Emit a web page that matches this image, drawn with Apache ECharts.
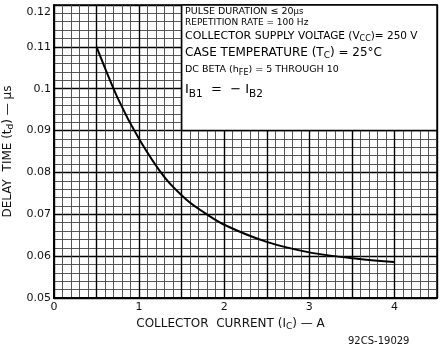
<!DOCTYPE html>
<html>
<head>
<meta charset="utf-8">
<script src="https://cdn.jsdelivr.net/npm/echarts@6/dist/echarts.min.js"></script>
<style>html,body{margin:0;padding:0;background:#fff}#c{width:440px;height:350px}</style>
</head>
<body>
<div id="c"></div>
<script>
// ---- data ----
const collectorCurrent = [0.5, 0.75, 1.0, 1.3, 1.55, 1.75, 2.0, 2.5, 3.0, 3.5, 4.0];
const delayTime = [0.1100, 0.0977, 0.0880, 0.0788, 0.0736, 0.0706, 0.0675, 0.0634, 0.0609, 0.0595, 0.0586];
const xTickLabels = ['0', '1', '2', '3', '4'];
const yTickLabels = ['0.05', '0.06', '0.07', '0.08', '0.09', '0.1', '0.11', '0.12'];
const noteBoxCorners = [[1.5, 0.12], [4.5, 0.09]];
const noteLines = [
  '{a|PULSE DURATION ≤ 20}{as|μs}',
  '{b|REPETITION RATE = 100 Hz}',
  '{c|COLLECTOR SUPPLY }{c2|VOLTAGE (V}{csub|CC}{c2|)= 250 V}',
  '{d|CASE TEMPERATURE (T}{dsub|C}{d|) = 25°C}',
  '{e|DC BETA (h}{esub|FE}{e|) = 5 THROUGH 10}',
  '{f|I}{fsub|B1}{f|  =  − I}{fsub|B2}'
];
const noteTops = [7, 18, 31, 47, 65, 83];
const footerText = '92CS-19029';

const FONT = 'DejaVu Sans';
const C = '#111';
const chart = echarts.init(document.getElementById('c'), null, {renderer: 'canvas'});
const richStyles = {
  a: {fontSize: 9.5, fontFamily: FONT, color: C},
  as: {fontSize: 8.5, fontFamily: FONT, color: C},
  b: {fontSize: 9, fontFamily: FONT, color: C},
  c: {fontSize: 11, fontFamily: FONT, color: C},
  c2: {fontSize: 10.5, fontFamily: FONT, color: C},
  csub: {fontSize: 8, fontFamily: FONT, color: C, padding: [5, 0, 0, 0]},
  d: {fontSize: 12, fontFamily: FONT, color: C},
  dsub: {fontSize: 9, fontFamily: FONT, color: C, padding: [6, 0, 0, 0]},
  e: {fontSize: 9.5, fontFamily: FONT, color: C},
  esub: {fontSize: 8, fontFamily: FONT, color: C, padding: [6, 0, 0, 0]},
  f: {fontSize: 13, fontFamily: FONT, color: C},
  fsub: {fontSize: 10.5, fontFamily: FONT, color: C, padding: [10, 0, 0, 0]}
};

const graphics = noteLines.map((t, i) => ({
  type: 'text', left: 185, top: noteTops[i], z: 100,
  style: {text: t, rich: richStyles}
}));
graphics.push({type: 'text', left: 348, top: 336, z: 100,
  style: {text: footerText, fontSize: 10, fontFamily: FONT, fill: C}});

chart.setOption({
  backgroundColor: '#fff',
  animation: false,
  grid: {left: 54, right: 3, top: 5, bottom: 52, outerBoundsMode: 'none', containLabel: false,
         show: true, borderColor: '#000', borderWidth: 1.5},
  xAxis: [
    {type: 'value', min: 0, max: 4.5, interval: 0.1, position: 'bottom',
     axisLine: {show: false}, axisTick: {show: false}, axisLabel: {show: false},
     splitLine: {show: true, lineStyle: {color: '#444', width: 0.9}}},
    {type: 'value', min: 0, max: 4.5, interval: 0.5, position: 'bottom',
     axisLine: {show: true, onZero: false, lineStyle: {color: '#000', width: 2}},
     axisTick: {show: false},
     axisLabel: {margin: 4, fontSize: 11, fontFamily: FONT, color: C,
       formatter: v => Math.abs(v - Math.round(v)) < 1e-6 ? (xTickLabels[Math.round(v)] || '') : ''},
     splitLine: {show: true, lineStyle: {color: '#000', width: 1.4}},
     name: '{n|COLLECTOR  CURRENT (I}{sub|C}{n|) — A}',
     nameLocation: 'middle', nameGap: 18,
     nameTextStyle: {padding: [0, 30, 0, 0], rich: {
       n: {fontSize: 12, fontFamily: FONT, color: C},
       sub: {fontSize: 9, fontFamily: FONT, color: C, padding: [6, 0, 0, 0]}}}}
  ],
  yAxis: [
    {type: 'value', min: 0.05, max: 0.12, interval: 0.002,
     axisLine: {show: false}, axisTick: {show: false}, axisLabel: {show: false},
     splitLine: {show: true, lineStyle: {color: '#444', width: 0.9}}},
    {type: 'value', min: 0.05, max: 0.12, interval: 0.01, position: 'left',
     axisLine: {show: true, onZero: false, lineStyle: {color: '#000', width: 2}},
     axisTick: {show: false},
     axisLabel: {margin: 3, fontSize: 11, fontFamily: FONT, color: C,
       formatter: v => {
         const i = Math.round((v - 0.05) / 0.01);
         const t = yTickLabels[i] || '';
         return i === yTickLabels.length - 1 ? '{top|' + t + '}' : t;
       },
       rich: {top: {fontSize: 11, fontFamily: FONT, color: C, padding: [14, 0, 0, 0]}}},
     splitLine: {show: true, lineStyle: {color: '#000', width: 1.4}},
     name: '{n|DELAY  TIME (t}{sub|d}{n|) — μs}',
     nameLocation: 'middle', nameRotate: 90, nameGap: 38,
     nameTextStyle: {rich: {
       n: {fontSize: 12, fontFamily: FONT, color: C},
       sub: {fontSize: 9, fontFamily: FONT, color: C, padding: [6, 0, 0, 0]}}}}
  ],
  series: [{
    type: 'line', xAxisIndex: 1, yAxisIndex: 1,
    data: collectorCurrent.map((x, i) => [x, delayTime[i]]),
    smooth: 0.3, showSymbol: false, silent: true,
    lineStyle: {color: '#000', width: 2},
    markArea: {silent: true,
      itemStyle: {color: '#fff', borderColor: '#000', borderWidth: 1.5},
      data: [[{coord: noteBoxCorners[0]}, {coord: noteBoxCorners[1]}]]}
  }],
  graphic: graphics
});
</script>
</body>
</html>
